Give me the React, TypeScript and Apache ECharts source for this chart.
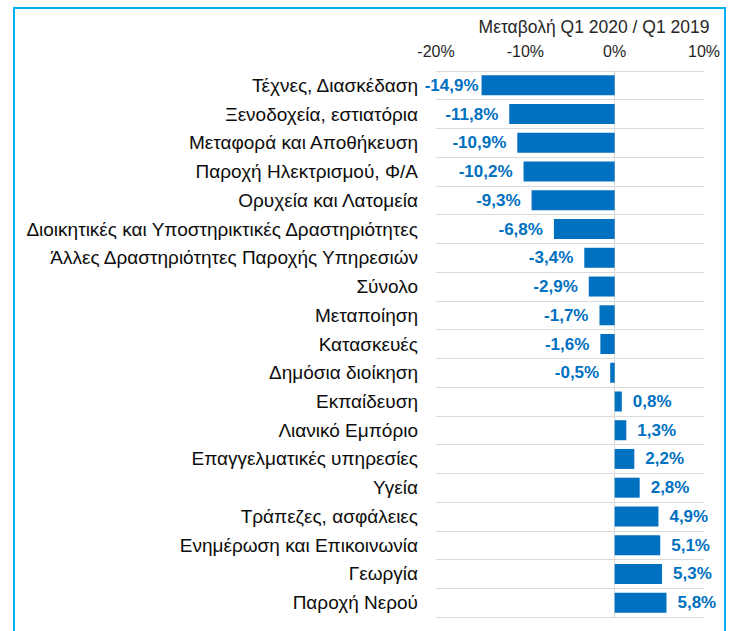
import React, { useEffect, useRef } from "react";
import * as echarts from "echarts";

const categories = [
  "Τέχνες, Διασκέδαση",
  "Ξενοδοχεία, εστιατόρια",
  "Μεταφορά και Αποθήκευση",
  "Παροχή Ηλεκτρισμού, Φ/Α",
  "Ορυχεία και Λατομεία",
  "Διοικητικές και Υποστηρικτικές Δραστηριότητες",
  "Άλλες Δραστηριότητες Παροχής Υπηρεσιών",
  "Σύνολο",
  "Μεταποίηση",
  "Κατασκευές",
  "Δημόσια διοίκηση",
  "Εκπαίδευση",
  "Λιανικό Εμπόριο",
  "Επαγγελματικές υπηρεσίες",
  "Υγεία",
  "Τράπεζες, ασφάλειες",
  "Ενημέρωση και Επικοινωνία",
  "Γεωργία",
  "Παροχή Νερού",
];

const values = [
  -14.9, -11.8, -10.9, -10.2, -9.3, -6.8, -3.4, -2.9, -1.7, -1.6, -0.5, 0.8, 1.3,
  2.2, 2.8, 4.9, 5.1, 5.3, 5.8,
];

const axisTitle = "Μεταβολή Q1 2020 / Q1 2019";

const fmt = (v: number) => v.toFixed(1).replace(".", ",") + "%";

export default function App() {
  const ref = useRef<HTMLDivElement>(null);
  useEffect(() => {
    document.body.style.margin = "0";
    const chart = echarts.init(ref.current!, null, { renderer: "svg" });
    const blue = "#0070C0";
    const font = "Liberation Sans, Arial, sans-serif";
    chart.setOption({
      animation: false,
      textStyle: { fontFamily: font },
      graphic: [
        {
          type: "rect",
          shape: { x: 14, y: 8, width: 711, height: 640 },
          style: { fill: "none", stroke: "#00B0F0", lineWidth: 2 },
          silent: true,
        },
      ],
      title: {
        text: axisTitle,
        left: 589,
        top: 13,
        textAlign: "center",
        textStyle: {
          fontSize: 17.5,
          fontWeight: "normal",
          color: "#262626",
          fontFamily: font,
        },
      },
      grid: { left: 436, right: 31, top: 71, bottom: 14, containLabel: false },
      xAxis: {
        type: "value",
        position: "top",
        min: -20,
        max: 10,
        interval: 10,
        axisLine: { show: false },
        axisTick: { show: false },
        splitLine: { show: false },
        axisLabel: {
          formatter: (v: number) => v + "%",
          fontSize: 16,
          color: "#262626",
          margin: 12,
        },
      },
      yAxis: {
        type: "category",
        data: categories,
        inverse: true,
        axisLine: { show: true, onZero: true, lineStyle: { color: "#d9d9d9", width: 1 } },
        axisTick: { show: false },
        splitLine: { show: true, lineStyle: { color: "#d9d9d9", width: 1 } },
        axisLabel: {
          fontSize: 19,
          color: "#0d0d0d",
          margin: 18,
        },
      },
      series: [
        {
          type: "bar",
          data: values.map((v, i) => ({
            value: v,
            label: {
              position: v < 0 ? "left" : "right",
              distance: i === 0 ? 3 : 11,
            },
          })),
          barWidth: 20,
          itemStyle: { color: blue },
          label: {
            show: true,
            formatter: (p: any) => fmt(p.value),
            color: blue,
            fontWeight: "bold",
            fontSize: 17,
          },
        },
      ],
    });
    return () => chart.dispose();
  }, []);
  return (
    <div
      ref={ref}
      style={{ position: "absolute", left: 0, top: 0, width: 735, height: 631 }}
    />
  );
}
